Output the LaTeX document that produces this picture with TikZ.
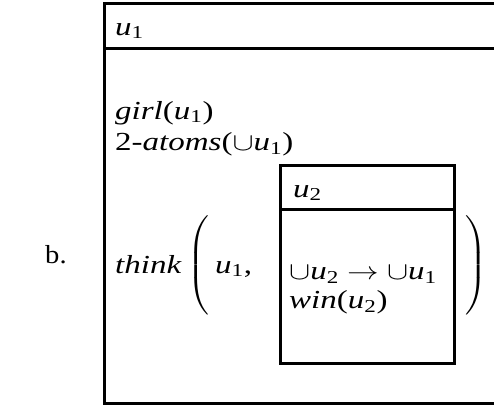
\documentclass[tikz,border=0pt]{standalone}
\usepackage{fontspec}
\usepackage{exscale}
\setmainfont{Liberation Serif}
\newcommand{\dfont}{\fontsize{26}{32}\selectfont}
\newcommand{\sx}[1]{\scalebox{1.27}[1]{#1}}
\newcommand{\uu}[1]{\textit{u}\textsubscript{#1}}
\newcommand{\bigparen}[1]{\scalebox{1.2}[1]{$\left#1\vcenter{\hbox{\rule{0pt}{96pt}}}\right.$}}
\tikzset{
  txt/.style={anchor=base west, inner sep=0pt, font=\dfont},
  par/.style={anchor=center, inner sep=0pt, font=\fontsize{22}{28}\selectfont},
  boxline/.style={line width=3pt}
}
\begin{document}
\begin{tikzpicture}[x=1pt,y=-1pt]
\useasboundingbox (0,0) rectangle (494,405);
% outer DRS box
\draw[boxline] (104.3,3) rectangle (499,403.8);
\draw[boxline] (104.3,48) -- (499,48);
% inner DRS box
\draw[boxline] (280.5,165) rectangle (454,363.3);
\draw[boxline] (280.5,209.5) -- (454,209.5);
% texts
\node[txt] (lab) at (45,263) {\scalebox{1.1}[1]{b.}};
\node[txt] (h1) at (115,35) {\sx{\uu{1}}};
\node[txt] (c1) at (115,119) {\sx{\textit{girl}(\uu{1})}};
\node[txt] (c2) at (115,150.5) {\sx{2-\textit{atoms}($\cup$\uu{1})}};
\node[txt] (th) at (115,273) {\sx{\textit{think}}};
\node[par] (lp) at (199.5,265) {\bigparen{(}};
\node[txt] (a1) at (215,273) {\sx{\uu{1},}};
\node[txt] (h2) at (293,197) {\sx{\uu{2}}};
\node[txt] (c3) at (289,279.5) {\sx{$\cup$\uu{2} $\rightarrow$ $\cup$\uu{1}}};
\node[txt] (c4) at (289,308.5) {\sx{\textit{win}(\uu{2})}};
\node[par] (rp) at (477,265) {\bigparen{)}};
\end{tikzpicture}
\end{document}
